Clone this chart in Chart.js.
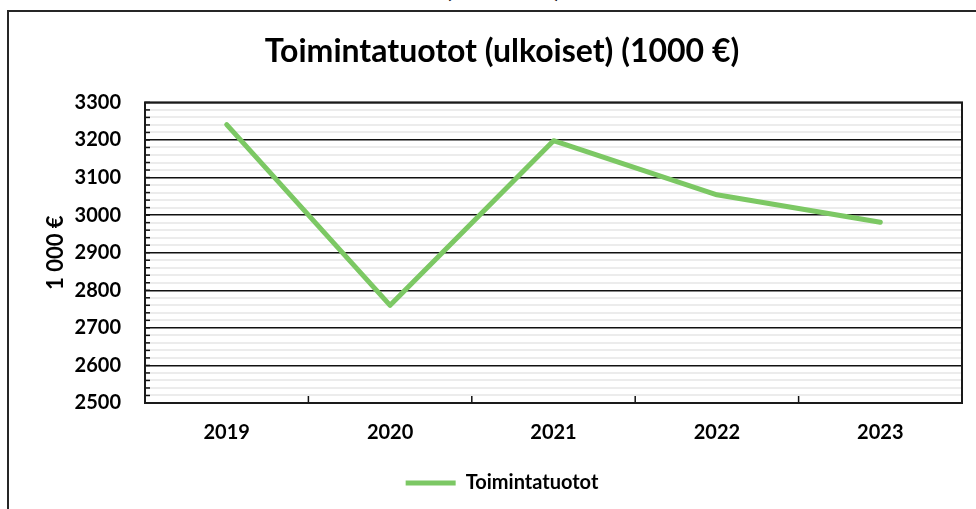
<!DOCTYPE html>
<html>
<head>
<meta charset="utf-8">
<title>Toimintatuotot</title>
<script src="https://cdn.jsdelivr.net/npm/chart.js"></script>
<style>
  html, body { margin: 0; padding: 0; background: #fff; overflow: hidden; }
  #wrap { position: relative; width: 976px; height: 509px; }
  #frame { position: absolute; left: 7px; top: 10px; width: 1200px; height: 800px; border: 2px solid #262626; }
  #cut { position: absolute; left: 0; width: 1006px; top: -36px; text-align: center; font: bold 32px Lato, sans-serif; color: #000; }
  #myChart { position: absolute; left: 0; top: 0; }
</style>
</head>
<body>
<div id="wrap">
  <div id="cut">(1000 €)</div>
  <div id="frame"></div>
  <canvas id="myChart" width="976" height="509"></canvas>
</div>
<script>
const vuodet = ["2019", "2020", "2021", "2022", "2023"];
const tuotot = [3241, 2760, 3198, 3054, 2981];
const otsikko = "Toimintatuotot (ulkoiset) (1000 €)";
const sarjaNimi = "Toimintatuotot";
const yOtsikko = "1 000 €";
const yMin = 2500;
const yMax = 3300;

const ctx = document.getElementById('myChart');
const fontti = "Lato";

// kehys + pienet sisäpuoliset tikkiviivat
const kehys = {
    id: 'kehys',
    afterDraw(chart) {
        const c = chart.ctx;
        const a = chart.chartArea;
        const x = chart.scales.x;
        const y = chart.scales.y;
        c.save();
        c.strokeStyle = "#111";
        c.lineWidth = 1.5;
        y.ticks.forEach(function (t) {
            const py = y.getPixelForValue(t.value);
            c.beginPath();
            c.moveTo(a.left, py);
            c.lineTo(a.left + 5, py);
            c.stroke();
        });
        for (let i = 1; i < vuodet.length; i++) {
            const px = (x.getPixelForValue(i - 1) + x.getPixelForValue(i)) / 2;
            c.beginPath();
            c.moveTo(px, a.bottom);
            c.lineTo(px, a.bottom - 7);
            c.stroke();
        }
        c.lineWidth = 2;
        c.strokeStyle = "#1a1a1a";
        c.strokeRect(a.left, a.top, a.right - a.left, a.bottom - a.top);
        c.restore();
    }
};

new Chart(ctx, {
    type: 'line',
    data: {
        labels: vuodet,
        datasets: [{
            label: sarjaNimi,
            data: tuotot,
            borderColor: "#7cc864",
            backgroundColor: "#7cc864",
            borderWidth: 5,
            borderCapStyle: 'round',
            borderJoinStyle: 'round',
            pointRadius: 0,
            tension: 0
        }]
    },
    options: {
        responsive: false,
        animation: false,
        layout: { padding: { left: 42, right: 14, top: 0, bottom: 6 } },
        plugins: {
            title: {
                display: true,
                text: otsikko,
                color: "#000",
                font: { family: fontti, size: 32, weight: 'bold' },
                padding: { top: 32, bottom: 32 }
            },
            legend: {
                position: 'bottom',
                labels: {
                    usePointStyle: true,
                    pointStyle: 'line',
                    pointStyleWidth: 50,
                    color: "#000",
                    font: { family: fontti, size: 20, weight: 'bold' },
                    padding: 10
                }
            },
            tooltip: { enabled: false }
        },
        scales: {
            x: {
                offset: true,
                grid: { display: false, drawTicks: false },
                border: { display: false },
                ticks: {
                    color: "#000",
                    padding: 18,
                    font: { family: fontti, size: 20, weight: 'bold' }
                }
            },
            y: {
                min: yMin,
                max: yMax,
                afterFit: function (s) { s.width = 103; },
                title: {
                    display: true,
                    text: yOtsikko,
                    color: "#000",
                    font: { family: fontti, size: 22, weight: 'bold' },
                    padding: { top: 1, bottom: 0 }
                },
                border: { display: false },
                grid: {
                    drawTicks: false,
                    color: function (c) {
                        return Math.round(c.tick.value) % 100 === 0 ? "#111" : "#ececec";
                    },
                    lineWidth: function (c) {
                        return Math.round(c.tick.value) % 100 === 0 ? 1.5 : 2;
                    }
                },
                ticks: {
                    stepSize: 20,
                    autoSkip: false,
                    color: "#000",
                    padding: 24,
                    font: { family: fontti, size: 20, weight: 'bold' },
                    callback: function (v) {
                        return Math.round(v) % 100 === 0 ? Math.round(v) : '';
                    }
                }
            }
        }
    },
    plugins: [kehys]
});
</script>
</body>
</html>
